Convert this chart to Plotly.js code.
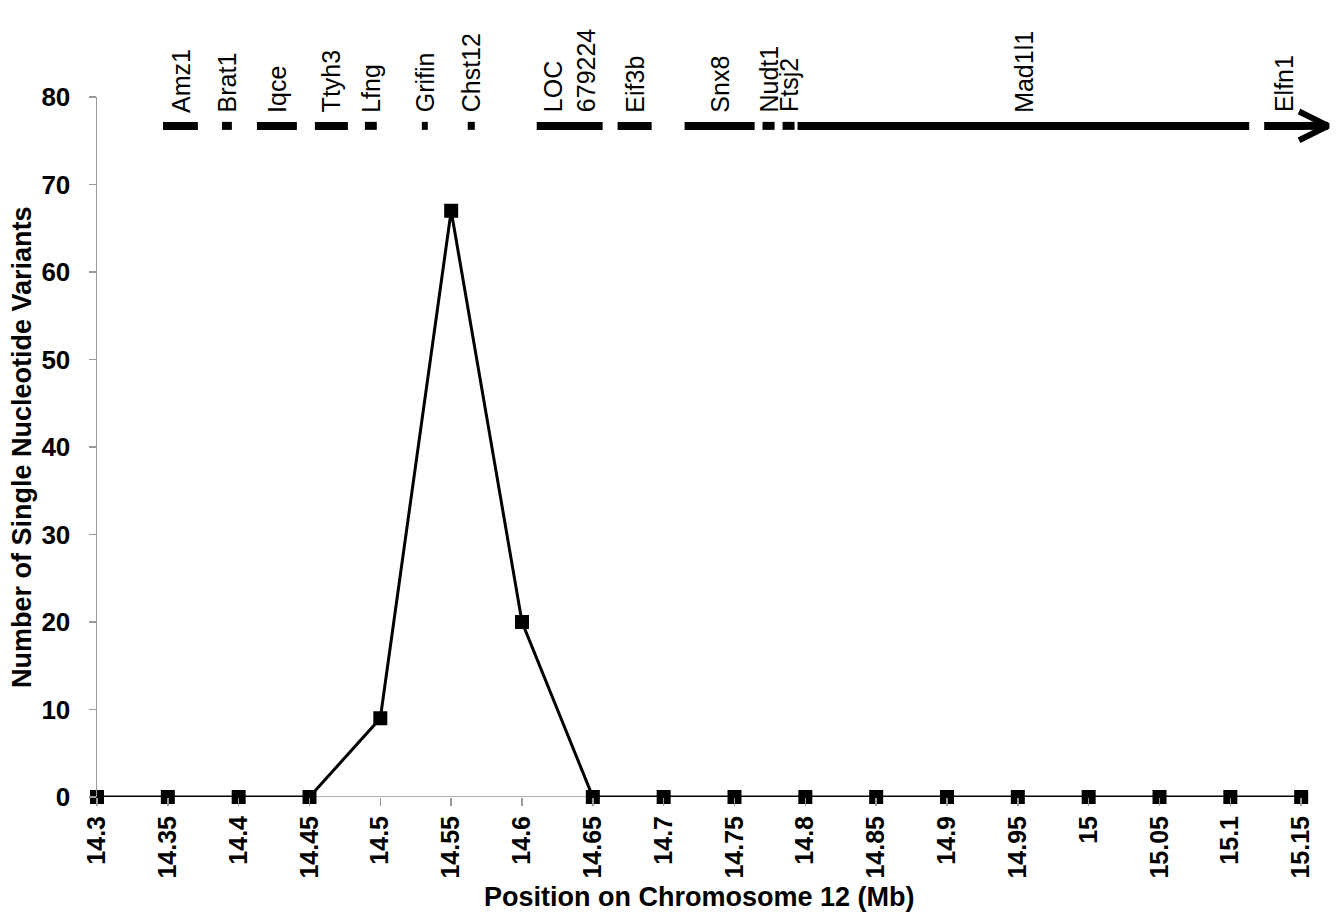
<!DOCTYPE html>
<html>
<head>
<meta charset="utf-8">
<script src="https://cdn.plot.ly/plotly-3.0.1.min.js"></script>
<style>html,body{margin:0;padding:0;background:#fff;}#chart{width:1342px;height:921px;}</style>
</head>
<body>
<div id="chart"></div>
<script>
// ---- Data ----
const positions = [14.3, 14.35, 14.4, 14.45, 14.5, 14.55, 14.6, 14.65, 14.7, 14.75, 14.8, 14.85, 14.9, 14.95, 15.0, 15.05, 15.1, 15.15];
const tickLabels = ['14.3','14.35','14.4','14.45','14.5','14.55','14.6','14.65','14.7','14.75','14.8','14.85','14.9','14.95','15','15.05','15.1','15.15'];
const snvCounts = [0, 0, 0, 0, 9, 67, 20, 0, 0, 0, 0, 0, 0, 0, 0, 0, 0, 0];

const geneNames  = ['Amz1','Brat1','Iqce','Ttyh3','Lfng','Grifin','Chst12','LOC<br>679224','Eif3b','Snx8','Nudt1','Ftsj2','Mad1l1','Elfn1'];
const geneStarts = [14.3466, 14.3882, 14.4129, 14.4538, 14.4891, 14.5293, 14.5617, 14.6104, 14.6675, 14.7148, 14.7698, 14.7839, 14.7945, 15.1239];
const geneEnds   = [14.3712, 14.3952, 14.4411, 14.4771, 14.4975, 14.5335, 14.5667, 14.6569, 14.6915, 14.7642, 14.7783, 14.7924, 15.1133, 15.1520];
const geneTrackY = 76.7;
const geneLabelY = 78.0;

// ---- Styles ----
const FONT = 'Arial, "Liberation Sans", sans-serif';
const AXIS_GRAY = '#9a9a9a';

const traces = [];

// gene bars
for (let i = 0; i < geneNames.length; i++) {
  traces.push({
    type: 'scatter', mode: 'lines',
    x: [geneStarts[i], geneEnds[i]], y: [geneTrackY, geneTrackY],
    line: {color: '#000', width: 8},
    hoverinfo: 'skip', showlegend: false, cliponaxis: false
  });
}
// arrow continuing last gene (Elfn1)
const last = geneNames.length - 1;
const arrowLen = 0.017, headLen = 0.0205, headHalf = 1.65;
const tipX = geneEnds[last] + arrowLen;
traces.push({
  type: 'scatter', mode: 'lines',
  x: [geneEnds[last] - 0.001, tipX], y: [geneTrackY, geneTrackY],
  line: {color: '#000', width: 8}, hoverinfo: 'skip', showlegend: false, cliponaxis: false
});
traces.push({
  type: 'scatter', mode: 'lines',
  x: [tipX - headLen, tipX, tipX - headLen], y: [geneTrackY + headHalf, geneTrackY, geneTrackY - headHalf],
  line: {color: '#000', width: 6, join: 'miter'}, hoverinfo: 'skip', showlegend: false, cliponaxis: false
});

// SNV line
traces.push({
  type: 'scatter', mode: 'lines+markers',
  x: positions, y: snvCounts,
  line: {color: '#000', width: 3},
  marker: {symbol: 'square', size: 14, color: '#000'},
  cliponaxis: false, showlegend: false
});

const annotations = geneNames.map((g, i) => ({
  text: g, x: (geneStarts[i] + geneEnds[i]) / 2, y: geneLabelY,
  xref: 'x', yref: 'y', showarrow: false, textangle: -90,
  xanchor: 'center', yanchor: 'bottom', align: 'left',
  font: {family: FONT, size: 25, color: '#000'}
}));

annotations.push({
  text: 'Position on Chromosome 12 (Mb)',
  x: (positions[0] + positions[positions.length - 1]) / 2, xref: 'x',
  y: 0, yref: 'paper', yshift: -100, yanchor: 'middle', xanchor: 'center',
  showarrow: false, font: {family: FONT, size: 27, weight: 'bold', color: '#000'}
});
annotations.push({
  text: 'Number of Single Nucleotide Variants',
  x: 0, xref: 'paper', xshift: -75, y: 0.5, yref: 'paper',
  xanchor: 'center', yanchor: 'middle', textangle: -90,
  showarrow: false, font: {family: FONT, size: 27, weight: 'bold', color: '#000'}
});

const layout = {
  width: 1342, height: 921,
  margin: {l: 97, r: 4, t: 97, b: 124},
  paper_bgcolor: '#fff', plot_bgcolor: '#fff',
  showlegend: false,
  xaxis: {
    range: [14.3, 15.176], showgrid: false, zeroline: false, showline: false,
    tickmode: 'array', tickvals: positions, ticktext: tickLabels,
    ticks: 'outside', ticklen: 8, tickwidth: 1.5, tickcolor: AXIS_GRAY,
    tickangle: -90, ticklabelstandoff: 0,
    tickfont: {family: FONT, size: 25, weight: 'bold', color: '#000'}
  },
  yaxis: {
    range: [0, 80], dtick: 10, showgrid: false, zeroline: false,
    showline: true, linecolor: AXIS_GRAY, linewidth: 1.5,
    ticks: 'outside', ticklen: 7, tickwidth: 1.5, tickcolor: AXIS_GRAY,
    ticklabelstandoff: 13,
    tickfont: {family: FONT, size: 26, weight: 'bold', color: '#000'}
  },
  shapes: [{
    type: 'line', xref: 'x', yref: 'y', layer: 'below',
    x0: positions[0], x1: positions[positions.length - 1], y0: 0, y1: 0,
    line: {color: AXIS_GRAY, width: 1.5}
  }],
  annotations: annotations
};

Plotly.newPlot('chart', traces, layout, {displayModeBar: false, staticPlot: true});
</script>
</body>
</html>
